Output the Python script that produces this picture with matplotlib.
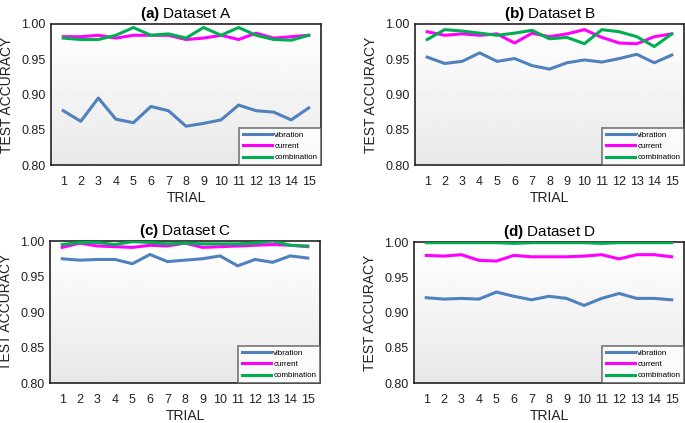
import numpy as np
import matplotlib
matplotlib.use("Agg")
import matplotlib.pyplot as plt

plt.rcParams['font.family'] = ['Liberation Sans', 'DejaVu Sans']
plt.rcParams['mathtext.fontset'] = 'custom'
plt.rcParams['mathtext.rm'] = 'Liberation Sans'
plt.rcParams['mathtext.bf'] = 'Liberation Sans:bold'

trials = np.arange(1, 16)

vib_a = [0.877, 0.862, 0.895, 0.865, 0.860, 0.883, 0.877, 0.855, 0.859, 0.864, 0.885, 0.877, 0.875, 0.864, 0.881]
cur_a = [0.982, 0.982, 0.984, 0.980, 0.984, 0.984, 0.984, 0.978, 0.980, 0.984, 0.978, 0.987, 0.980, 0.982, 0.984]
com_a = [0.980, 0.978, 0.978, 0.984, 0.995, 0.984, 0.986, 0.980, 0.995, 0.984, 0.995, 0.984, 0.978, 0.977, 0.984]

vib_b = [0.953, 0.944, 0.947, 0.959, 0.947, 0.951, 0.941, 0.936, 0.945, 0.949, 0.946, 0.951, 0.957, 0.945, 0.956]
cur_b = [0.989, 0.984, 0.986, 0.984, 0.986, 0.973, 0.987, 0.982, 0.986, 0.992, 0.981, 0.973, 0.972, 0.982, 0.986]
com_b = [0.978, 0.992, 0.990, 0.987, 0.984, 0.987, 0.991, 0.979, 0.981, 0.972, 0.992, 0.989, 0.982, 0.968, 0.986]

vib_c = [0.975, 0.973, 0.974, 0.974, 0.968, 0.981, 0.971, 0.973, 0.975, 0.979, 0.965, 0.974, 0.970, 0.979, 0.976]
cur_c = [0.991, 0.997, 0.993, 0.992, 0.991, 0.994, 0.993, 0.997, 0.991, 0.992, 0.993, 0.994, 0.995, 0.994, 0.992]
com_c = [0.995, 0.998, 0.998, 0.995, 0.999, 0.998, 0.996, 0.997, 0.996, 0.996, 0.996, 0.997, 1.000, 0.994, 0.993]

vib_d = [0.921, 0.919, 0.920, 0.919, 0.929, 0.923, 0.918, 0.923, 0.920, 0.910, 0.920, 0.927, 0.920, 0.920, 0.918]
cur_d = [0.981, 0.980, 0.982, 0.974, 0.973, 0.981, 0.979, 0.979, 0.979, 0.980, 0.982, 0.976, 0.982, 0.982, 0.979]
com_d = [0.999, 0.999, 0.999, 0.999, 0.999, 0.998, 0.999, 0.999, 0.999, 0.999, 0.998, 0.999, 0.999, 0.999, 0.999]

panels = [
    ("(a)", "Dataset A", vib_a, cur_a, com_a),
    ("(b)", "Dataset B", vib_b, cur_b, com_b),
    ("(c)", "Dataset C", vib_c, cur_c, com_c),
    ("(d)", "Dataset D", vib_d, cur_d, com_d),
]

# axes boxes in pixels (left, top, right, bottom)
boxes = [(51, 24, 321, 165), (415, 24, 684, 165), (50, 241, 320, 383), (414, 242, 684, 383)]

W, H = 685, 423
fig = plt.figure(figsize=(W / 100, H / 100), dpi=100)

grad = np.linspace(1.0, 0.91, 100).reshape(-1, 1)

for (tag, name, vib, cur, com), (l, t, r, b) in zip(panels, boxes):
    ax = fig.add_axes([l / W, 1 - b / H, (r - l) / W, (b - t) / H])
    ax.imshow(grad, extent=[0, 1, 0, 1], transform=ax.transAxes, aspect='auto',
              cmap='gray', vmin=0, vmax=1, zorder=0)
    ax.plot(trials, vib, color='#4f81bd', lw=2.2, label='vibration', zorder=3)
    ax.plot(trials, cur, color='#ff00ff', lw=2.2, label='current', zorder=3)
    ax.plot(trials, com, color='#00b050', lw=2.2, label='combination', zorder=3)
    ax.set_xlim(0.3, 15.7)
    ax.set_ylim(0.80, 1.00)
    ax.set_xticks(trials)
    ax.set_yticks([0.80, 0.85, 0.90, 0.95, 1.00])
    ax.set_yticklabels(["0.80", "0.85", "0.90", "0.95", "1.00"])
    ax.tick_params(length=0, labelsize=9, pad=8, colors='#222222')
    ax.tick_params(axis='y', pad=4)
    for s in ax.spines.values():
        s.set_color('#222222')
        s.set_linewidth(1.2)
    ax.set_xlabel("TRIAL", fontsize=10, labelpad=2, color='#222222')
    ax.set_ylabel("TEST ACCURACY", fontsize=10, labelpad=5, color='#222222')
    ax.set_title(r"$\bf{" + tag + "}$ Dataset " + name[-1], fontsize=11, pad=4)
    leg = ax.legend(loc='lower right', fontsize=5.8, handlelength=3.6, frameon=True,
                    fancybox=False, borderaxespad=0, labelspacing=0.45,
                    handletextpad=0.3, borderpad=0.45)
    leg.get_frame().set_edgecolor('#555555')
    leg.get_frame().set_linewidth(1.2)
    leg.get_frame().set_facecolor('white')

fig.savefig("out.png", dpi=100)
